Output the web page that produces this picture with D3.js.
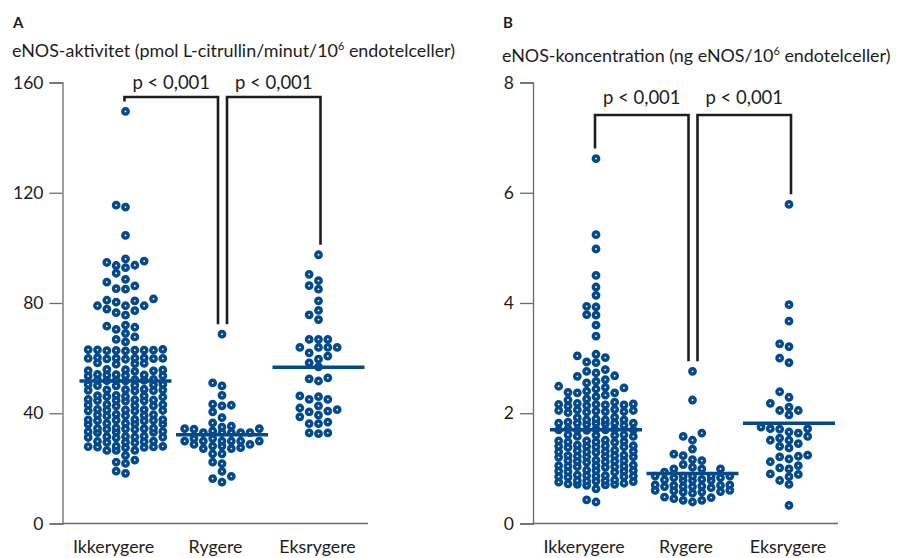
<!DOCTYPE html>
<html>
<head>
<meta charset="utf-8">
<script src="https://cdn.jsdelivr.net/npm/d3@7"></script>
<style>
  body { margin: 0; background: #fff; }
  svg { display: block; font-family: Lato, "Open Sans", sans-serif; }
</style>
</head>
<body>
<script>
// groups and tick labels
var groups = ["Ikkerygere", "Rygere", "Eksrygere"];
var ticksA = [0, 40, 80, 120, 160];
var ticksB = [0, 2, 4, 6, 8];
var pText = "p < 0,001";

// A: eNOS-aktivitet
var activityNon = [149.5, 115.5, 114.8, 104.5,
  96, 95.2, 94.7, 93.7, 93.6, 92.8, 90.8, 88.6, 87.6, 86.2, 85.2, 85,
  81.5, 81, 80.8, 80.3, 79, 79, 79, 77.8, 77.2, 76.5, 75.6,
  72, 71.6, 71.2, 70.4, 69, 67.7, 66.8, 65.9,
  63.2, 62.9, 62.9, 62.7, 62.9, 63, 62.6, 62.8, 63.1,
  60, 59.9, 59.7, 60.1, 59.8, 60.2, 59.9, 59.6, 60,
  58, 58.3, 57.8, 58.1,
  55.9, 55.7, 55.5, 55.4, 55.8, 55.2,
  54.1, 53.9, 53.7, 53.6, 54.0, 53.5, 53.8,
  52.3, 52.1, 51.9, 51.7, 52.2, 51.8, 52.0,
  50.5, 50.3, 50.1, 49.9, 50.4, 50.0,
  48.7, 48.5, 48.3, 48.1, 48.6, 48.2, 48.4,
  46.5, 46.3, 46.1, 45.9, 46.4, 46.0,
  45.0, 44.8, 44.6, 44.4, 44.9, 44.5, 44.7,
  43.2, 43.0, 42.8, 42.6, 43.1, 42.7,
  41.4, 41.2, 41.0, 40.8, 41.3, 40.9, 41.1,
  39.6, 39.4, 39.2, 39.0, 39.5, 39.1,
  37.8, 37.6, 37.4, 37.2, 37.7, 37.3, 37.5,
  36.4, 36.2, 36.0, 36.3, 36.1,
  34.7, 34.5, 34.3, 34.1, 34.6, 34.2, 34.4,
  33.4, 33.2, 33.0, 33.3, 33.1,
  31.7, 31.5, 31.3, 31.1, 31.6, 31.2, 31.4,
  29.9, 29.7, 29.5, 29.3, 29.8, 29.4,
  28.1, 27.9, 27.7, 27.5, 28.0, 27.6, 27.8,
  26.5, 26.5, 26.5, 24.7, 23, 22.3, 21.8, 19, 18.2];
var activitySmk = [68.7, 51, 49.9, 46.5, 43.3, 42.9, 42.7, 40.5, 38.4, 36.5,
  35.3, 35, 34.4, 34.4, 34.2, 33.6, 33, 33, 33, 33, 33,
  30.8, 30.8, 29.9, 29.9, 29.9, 29.9, 29.9, 29.9, 28.7, 28.7, 28.1, 28.1,
  27.5, 27.2, 27.2, 25.3, 25.3, 22.3, 21.7, 18.9, 17.1, 16.3, 15];
var activityEx = [97.5, 90.4, 88.1, 86.3, 85, 80.8, 77.3, 75.7, 74,
  66.8, 66.8, 66.8, 63.9, 63.9, 63.9, 63.9, 61.9, 60.7, 59.6, 58.3, 56.8,
  52.8, 51.7, 52.5, 46.3, 45, 45, 46, 42.7, 41.3, 40.5, 40.8, 41.9, 39.3,
  38.7, 36.2, 36.2, 36.8, 32.9, 32.6, 32.9];
var activityMid = [51.7, 32.2, 56.7];

// B: eNOS-koncentration
var concNon = [6.62, 5.24, 4.98, 4.5, 4.29, 4.14, 3.94, 3.93, 3.79, 3.78, 3.6, 3.4,
  3.07, 3.04, 3.01, 2.93, 2.92, 2.79, 2.76, 2.73, 2.68, 2.67, 2.61, 2.58,
  2.55, 2.49, 2.47, 2.46, 2.44, 2.4, 2.38, 2.37, 2.37, 2.33, 2.3, 2.26, 2.24, 2.2,
  2.17, 2.15, 2.18, 2.16, 2.14, 2.15, 2.13, 2.16,
  2.05, 2.03, 2.06, 2.04, 2.05, 2.07, 2.03, 2.01, 2.02,
  1.92, 1.9, 1.88, 1.88, 1.93, 1.88,
  1.82, 1.82, 1.82, 1.81, 1.78, 1.8, 1.82, 1.82, 1.84,
  1.7, 1.69, 1.71, 1.7, 1.71, 1.7, 1.72, 1.7,
  1.6, 1.61, 1.58, 1.58, 1.61, 1.6,
  1.5, 1.48, 1.51, 1.47, 1.49, 1.5, 1.48,
  1.41, 1.39, 1.42, 1.4, 1.38, 1.41, 1.4, 1.39,
  1.32, 1.3, 1.31, 1.33, 1.29, 1.31, 1.3,
  1.23, 1.21, 1.22, 1.24, 1.2, 1.22, 1.23, 1.21,
  1.14, 1.12, 1.13, 1.15, 1.11, 1.13, 1.14,
  1.05, 1.03, 1.04, 1.06, 1.02, 1.04, 1.05, 1.03,
  0.96, 0.94, 0.95, 0.97, 0.93, 0.95, 0.96,
  0.87, 0.85, 0.86, 0.88, 0.84, 0.86, 0.87, 0.85,
  0.78, 0.76, 0.77, 0.79, 0.75, 0.77, 0.78,
  0.72, 0.7, 0.71, 0.73, 0.69, 0.71,
  0.63, 0.43, 0.39];
var concSmk = [2.76, 2.24, 1.64, 1.58, 1.51, 1.35, 1.26, 1.23, 1.16, 1.14, 1.07,
  1.02, 0.99, 0.99, 0.99, 0.93, 0.86, 0.86, 0.83, 0.86, 0.83, 0.86, 0.86,
  0.78, 0.78, 0.79, 0.8, 0.78, 0.67, 0.67, 0.65, 0.69, 0.7, 0.7, 0.67, 0.68, 0.69,
  0.57, 0.58, 0.6, 0.59, 0.6, 0.55, 0.57, 0.47, 0.42, 0.39, 0.42, 0.45, 0.48];
var concEx = [5.79, 3.97, 3.67, 3.26, 3.21, 3.0, 2.92, 2.39, 2.29, 2.18,
  2.11, 2.05, 2.05, 1.97, 1.75, 1.72, 1.72, 1.71, 1.66, 1.64,
  1.58, 1.55, 1.51, 1.51, 1.45, 1.4, 1.37, 1.24, 1.22, 1.21, 1.17, 1.12,
  1.05, 1.01, 0.99, 0.9, 0.89, 0.85, 0.78, 0.71, 0.33];
var concMid = [1.70, 0.905, 1.82];

var blue = "#034a8c", ink = "#1d1d1b", axisCol = "#6a6a6a";
var W = 904, H = 558, top0 = 82.5, base = 523.5, fs = 17.5;

var svg = d3.select("body").append("svg").attr("width", W).attr("height", H);

var panels = [
  {letter: "A", left: 62.5, right: 368, letterY: 28, titleX: 12, titleY: 57,
   pre: "eNOS-aktivitet (pmol L-citrullin/minut/10", post: " endotelceller)",
   max: 160, ticks: ticksA, series: [activityNon, activitySmk, activityEx], mids: activityMid,
   brY: 97, pY: 89},
  {letter: "B", left: 533, right: 838, letterY: 28, titleX: 502, titleY: 62,
   pre: "eNOS-koncentration (ng eNOS/10", post: " endotelceller)",
   max: 8, ticks: ticksB, series: [concNon, concSmk, concEx], mids: concMid,
   brY: 115, pY: 104}
];

// simple column beeswarm: each dot goes to the nearest free column
function swarm(vals, y, step, maxCol, gap) {
  var order = [0];
  for (var k = 1; k <= maxCol; k++) order.push(-k, k);
  var cols = {}, out = [];
  vals.slice().sort(function(a, b) { return a - b; }).forEach(function(v) {
    var py = y(v), pick = null, best = -1, bestCol = 0;
    for (var i = 0; i < order.length; i++) {
      var c = order[i], ys = cols[c] || [];
      var g = d3.min(ys, function(q) { return Math.abs(q - py); });
      if (g === undefined) g = Infinity;
      if (g >= gap) { pick = c; break; }
      if (g > best) { best = g; bestCol = c; }
    }
    if (pick === null) pick = bestCol;
    (cols[pick] = cols[pick] || []).push(py);
    out.push({v: v, col: pick});
  });
  return out;
}

panels.forEach(function(p) {
  var g = svg.append("g");
  var y = d3.scaleLinear().domain([0, p.max]).range([base, top0]);
  var x = d3.scalePoint().domain(groups).range([p.left + 63, p.left + 256]);
  var xl = d3.scalePoint().domain(groups).range([p.left + 51, p.left + 255]);

  g.append("text").attr("x", p.titleX + 1).attr("y", p.letterY)
    .attr("font-size", 15).attr("font-weight", 700).attr("fill", ink).text(p.letter);
  var t = g.append("text").attr("x", p.titleX).attr("y", p.titleY)
    .attr("font-size", 17.9).attr("fill", ink);
  t.append("tspan").text(p.pre);
  t.append("tspan").attr("font-size", 11).attr("dy", -7).text("6");
  t.append("tspan").attr("dy", 7).text(p.post);

  // y axis
  var ax = g.append("g").attr("transform", "translate(" + p.left + ",0)")
    .call(d3.axisLeft(y).tickValues(p.ticks).tickSize(13).tickPadding(6)
      .tickFormat(d3.format("d")));
  ax.selectAll("path, line").attr("stroke", axisCol).attr("stroke-width", 1.3);
  ax.selectAll("text").attr("font-size", fs).attr("fill", ink)
    .attr("font-family", "Lato, 'Open Sans', sans-serif");
  g.append("line").attr("x1", p.left).attr("x2", p.right)
    .attr("y1", y(0)).attr("y2", y(0)).attr("stroke", axisCol).attr("stroke-width", 1.3);

  g.selectAll(".xl").data(groups).enter().append("text")
    .attr("x", function(d) { return xl(d); }).attr("y", 553)
    .attr("text-anchor", "middle").attr("font-size", 17.8).attr("fill", ink)
    .text(function(d) { return d; });

  // dots
  p.series.forEach(function(vals, i) {
    var pts = swarm(vals, y, 9.33, 4, 7.6);
    var cx = x(groups[i]);
    var dg = g.append("g");
    dg.selectAll("circle.d").data(pts).enter().append("circle")
      .attr("cx", function(d) { return cx + d.col * 9.33; })
      .attr("cy", function(d) { return y(d.v); })
      .attr("r", 2.65).attr("fill", "#fff").attr("stroke", blue).attr("stroke-width", 3.5);
    g.append("line").attr("x1", cx - 46).attr("x2", cx + 46)
      .attr("y1", y(p.mids[i])).attr("y2", y(p.mids[i]))
      .attr("stroke", blue).attr("stroke-width", 3.5);
  });

  // significance brackets
  var tops = p.series.map(function(s) { return y(d3.max(s)) - 10; });
  var br = [
    {x1: x(groups[0]) - 1, x2: x(groups[1]) - 4, y1: tops[0], y2: tops[1]},
    {x1: x(groups[1]) + 5, x2: x(groups[2]) + 2, y1: tops[1], y2: tops[2]}
  ];
  br.forEach(function(b) {
    g.append("path")
      .attr("d", "M" + b.x1 + "," + b.y1 + "V" + p.brY + "H" + b.x2 + "V" + b.y2)
      .attr("fill", "none").attr("stroke", ink).attr("stroke-width", 2.6);
    g.append("text").attr("x", (b.x1 + b.x2) / 2).attr("y", p.pY)
      .attr("text-anchor", "middle").attr("font-size", 18.5).attr("fill", ink).text(pText);
  });
});
</script>
</body>
</html>
